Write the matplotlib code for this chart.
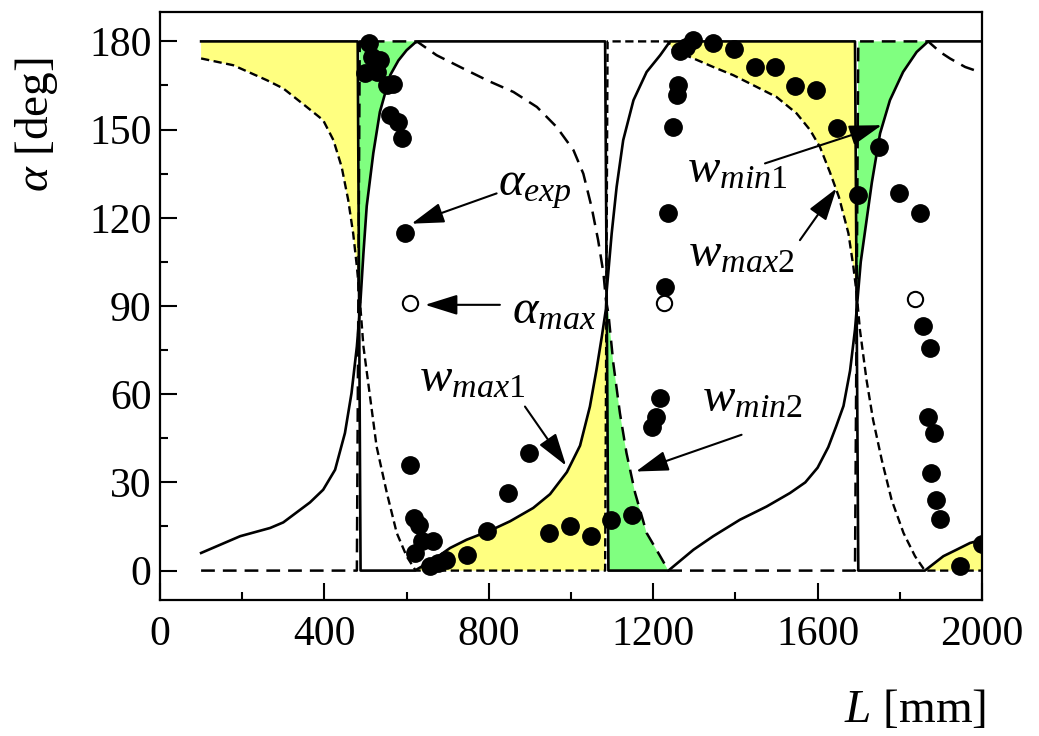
import matplotlib
matplotlib.use('Agg')
import matplotlib.pyplot as plt
import numpy as np

plt.rcParams['font.family'] = 'Liberation Serif'
plt.rcParams['mathtext.fontset'] = 'custom'
plt.rcParams['mathtext.rm'] = 'Liberation Serif'
plt.rcParams['mathtext.it'] = 'Liberation Serif:italic'

# solid curve w_min (branch A)
a_L = [100, 195, 268, 300, 365, 397, 426, 450, 466, 479, 487, 495, 503, 519, 535, 560, 580, 600, 620, 628,
       1083, 1091, 1237, 1298, 1346, 1411, 1476, 1533, 1570, 1600, 1626, 1645, 1663, 1679, 1691, 1697,
       1705, 1715, 1732, 1752, 1776, 1808, 1841, 1869, 2000]
a_val = [6.0, 11.7, 14.5, 16.4, 23.2, 27.5, 34.3, 46.8, 60.4, 76.2, 90, 108, 124, 142, 156, 168.5, 173.5, 177, 179.5, 180,
         180, 0, 0, 7.1, 11.7, 17.3, 21.8, 26.4, 30, 35, 42, 49, 56, 68, 82, 92,
         105, 115, 132, 148.7, 160, 169.6, 176.4, 180, 180]

# solid curve w_max (branch B)
b_L = [100, 481, 488, 620, 665, 706, 746, 803, 852, 908, 949, 990, 1022, 1046, 1062, 1075, 1085, 1087,
       1099, 1111, 1127, 1152, 1184, 1217, 1241, 1691, 1699, 1861, 1906, 1938, 1971, 2000]
b_val = [180, 180, 0, 0, 3.7, 7.7, 10.5, 13.6, 16.8, 21.3, 26, 33.5, 42.5, 55.8, 68.3, 79.6, 89, 95.4,
         114.7, 130.5, 146.4, 160, 169.6, 175.3, 180, 180, 0, 0, 4.9, 7.1, 9.4, 10.5]

# dashed curve (branch C)
c_L = [100, 178, 260, 300, 357, 397, 422, 442, 458, 470, 479, 485, 495, 511, 527, 552, 576, 600, 622,
       1083, 1089, 1236, 1249, 1298, 1346, 1395, 1452, 1500, 1549, 1582, 1606, 1630, 1652, 1675, 1687,
       1695, 1703, 1719, 1735, 1756, 1780, 1809, 1837, 1861, 2000]
c_val = [174.2, 171.9, 166.8, 164, 157.7, 153.2, 146.4, 137.3, 126, 114.7, 103.4, 94.3, 76.2, 59.2, 42.2, 26.4, 12.8, 4.9, 0,
         0, 180, 180, 177, 174.2, 171.3, 168.5, 164.5, 161.1, 155.5, 149.8, 144, 135.5, 127, 114.7, 103.4,
         94.3, 81.9, 64.9, 51.3, 37.7, 24.1, 12.8, 4.9, 0, 0]

# dashed curve (branch D)
d_L = [100, 479, 486, 625, 673, 746, 800, 860, 917, 965, 1006, 1030, 1050, 1066, 1079, 1085, 1091, 1103,
       1119, 1135, 1156, 1184, 1217, 1237, 1691, 1699, 1869, 1898, 1922, 1959, 1990]
d_val = [0, 0, 180, 180, 175.3, 170.2, 166.5, 162.8, 157.7, 150.9, 143, 135, 123.7, 112.4, 101.1, 92, 87.5, 70.5,
         53.6, 40, 26.4, 12.8, 4.9, 0, 0, 180, 180, 176.4, 174.2, 171.3, 169.8]

# experimental alpha
exp_L = [499, 509, 515, 527, 535, 552, 568, 560, 580, 588, 596,
         608, 618, 629, 620, 637, 665, 657, 677, 697, 746, 796, 847, 898, 947, 998, 1048, 1097, 1148,
         1196, 1207, 1217, 1229, 1237, 1248, 1257, 1261, 1265, 1281, 1298, 1346, 1397, 1448, 1496, 1545,
         1596, 1646, 1699, 1750, 1799, 1849, 1857, 1873, 1869, 1883, 1877, 1888, 1898, 1946, 1999]
exp_a = [169.3, 179.5, 174.7, 169.6, 173.6, 165, 165.6, 154.9, 152.6, 147, 114.7,
         35.8, 18, 15.5, 6, 10, 10, 1.5, 2.6, 3.7, 5.4, 13.5, 26.5, 40, 12.8, 15.2, 11.7, 17.3, 18.9,
         49, 52.4, 58.7, 96.6, 121.5, 151, 161.7, 165, 176.8, 178, 180.5, 179.5, 177.5, 171.3, 171.3, 164.7,
         163.4, 150.7, 127.9, 144.1, 128.3, 121.5, 83.2, 75.6, 52.4, 46.8, 33.2, 24.1, 17.6, 1.7, 9.2]

# alpha_max
max_L = [608, 1227, 1837]
max_a = [91, 91, 92.3]

fig = plt.figure(figsize=(10.39, 7.36), dpi=100)
ax = fig.add_axes([160 / 1039, 1 - 600 / 736, 822 / 1039, 588 / 736])

grid = np.unique(np.concatenate([a_L, b_L, c_L, d_L]))
A = np.interp(grid, a_L, a_val)
B = np.interp(grid, b_L, b_val)
C = np.interp(grid, c_L, c_val)
D = np.interp(grid, d_L, d_val)
ax.fill_between(grid, C, B, where=B > C, interpolate=True, color='#ffff80', lw=0, zorder=1)
ax.fill_between(grid, A, D, where=D > A, interpolate=True, color='#80ff80', lw=0, zorder=1)

ax.plot(a_L, a_val, color='k', lw=1.9, zorder=3)
ax.plot(b_L, b_val, color='k', lw=1.9, zorder=3)
ax.plot(c_L, c_val, color='k', lw=1.7, dashes=(3.5, 1.9), zorder=3)
ax.plot(d_L, d_val, color='k', lw=1.8, dashes=(5.5, 3.2), zorder=3)

ax.plot(exp_L, exp_a, 'o', color='k', ms=12.5, zorder=5)
ax.plot(max_L, max_a, 'o', mfc='white', mec='k', mew=1.5, ms=11, zorder=5)

ap = dict(arrowstyle='-|>,head_length=0.8,head_width=0.25', mutation_scale=25,
          color='k', lw=1.5, shrinkA=0, shrinkB=0)
fs = 35
ax.text(822, 127.7, r'$\alpha_{exp}$', fontsize=fs, zorder=6)
ax.annotate('', xy=(612, 118), xytext=(819, 128.3), arrowprops=ap)
ax.text(856, 84, r'$\alpha_{max}$', fontsize=fs, zorder=6)
ax.annotate('', xy=(645, 90.4), xytext=(827, 90.4), arrowprops=ap)
ax.text(630, 61, r'$w_{max1}$', fontsize=fs, zorder=6)
ax.annotate('', xy=(988, 35.7), xytext=(888, 55.8), arrowprops=ap)
ax.text(1319, 54, r'$w_{min2}$', fontsize=fs, zorder=6)
ax.annotate('', xy=(1158, 33.7), xytext=(1415, 46.2), arrowprops=ap)
ax.text(1282, 132, r'$w_{min1}$', fontsize=fs, zorder=6)
ax.annotate('', xy=(1756, 151.5), xytext=(1472, 138.5), arrowprops=ap)
ax.text(1285, 103.3, r'$w_{max2}$', fontsize=fs, zorder=6)
ax.annotate('', xy=(1646, 130), xytext=(1557, 112.4), arrowprops=ap)

ax.set_xlim(0, 2000)
ax.set_ylim(-10, 190)
ax.set_xticks(np.arange(0, 2001, 400))
ax.set_xticks(np.arange(200, 2000, 400), minor=True)
ax.set_yticks(np.arange(0, 181, 30))
ax.set_yticks(np.arange(15, 181, 30), minor=True)
ax.tick_params(which='both', direction='in', top=False, right=False, width=1.5, labelsize=30)
ax.tick_params(which='major', length=12)
ax.tick_params(which='minor', length=6)
ax.tick_params(axis='x', pad=11)
ax.tick_params(axis='y', pad=6)
for s in ax.spines.values():
    s.set_linewidth(1.6)

fig.text(36 / 1039, 1 - 125 / 736, r'$\alpha$ [deg]', fontsize=34, rotation=90, ha='center', va='center')
fig.text(915 / 1039, 1 - 710 / 736, r'$L$ [mm]', fontsize=34, ha='center', va='center')

fig.savefig('out.png', dpi=100)
